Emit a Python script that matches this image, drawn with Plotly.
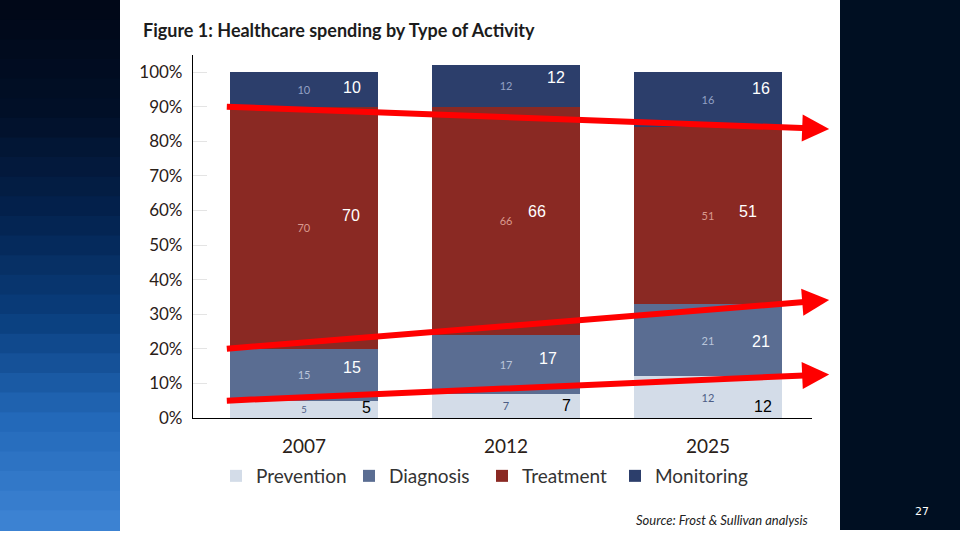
import plotly.graph_objects as go

# ---------------- data ----------------
years = ["2007", "2012", "2025"]
prevention = [5, 7, 12]
diagnosis = [15, 17, 21]
treatment = [70, 66, 51]
monitoring = [10, 12, 16]
series_names = ["Prevention", "Diagnosis", "Treatment", "Monitoring"]
y_tick_values = [0, 10, 20, 30, 40, 50, 60, 70, 80, 90, 100]
y_tick_labels = ["0%", "10%", "20%", "30%", "40%", "50%", "60%", "70%", "80%", "90%", "100%"]
major_tick_values = [20, 70, 90, 100]

# ---------------- styles ----------------
bar_colors = ["#d3dce8", "#5a6d92", "#8a2923", "#2c3e6b"]
inner_text_colors = ["#4d5d85", "#b9c5da", "#d99a8e", "#93a1c4"]
overlay_text_colors = ["#000000", "#ffffff", "#ffffff", "#ffffff"]
# pixel offsets (xshift, yshift) of the overlaid labels, per series then per year
overlay_offsets = [
    [(62, 2), (60, 0), (55, -9)],
    [(48, 7), (42, 6), (53, -1)],
    [(47, 12), (31, 9), (40, 4)],
    [(48, 2), (50, 8), (53, 11)],
]
FONT = "Lato"
W, H = 960, 540
H_EFF = 530          # height the page is actually drawn at in the viewer
PX_PER_UNIT = 3.46
Y_BASE_PX = 418
Y_TOP_PX = 55
X_LEFT_PX, X_RIGHT_PX = 193, 812
x_range = [-0.55, 2.515]
y_range = [0, (Y_BASE_PX - Y_TOP_PX) / PX_PER_UNIT]


def py(px):
    return 1 - px / H_EFF


series = [prevention, diagnosis, treatment, monitoring]

fig = go.Figure()
for name, vals, col, tcol in zip(series_names, series, bar_colors, inner_text_colors):
    fig.add_trace(go.Bar(
        x=years, y=vals, name=name,
        marker=dict(color=col, line=dict(width=0)),
        text=[str(v) for v in vals],
        textposition="inside", insidetextanchor="middle", textangle=0,
        textfont=dict(family=FONT, size=11, color=tcol),
        width=0.735,
    ))

annotations = []
# overlaid labels (added on the slide) from the data
for si, vals in enumerate(series):
    for yi, v in enumerate(vals):
        base = sum(series[k][yi] for k in range(si))
        dx, dy = overlay_offsets[si][yi]
        annotations.append(dict(
            x=yi, y=base + v / 2, xref="x", yref="y", text=str(v), showarrow=False,
            xshift=dx, yshift=dy,
            font=dict(family="Liberation Sans", size=16, color=overlay_text_colors[si]),
        ))

# red trend arrows across the boundaries between the stacks
arrow_x0, arrow_x1 = -0.39, 2.6
bar_right = 2 + 0.367
for level in (3, 2, 1):
    a = sum(series[k][0] for k in range(level))
    b = sum(series[k][2] for k in range(level))
    slope = (b - a) / (bar_right - arrow_x0)
    y_end = a + slope * (arrow_x1 - arrow_x0)
    annotations.append(dict(
        x=arrow_x1, y=y_end, ax=arrow_x0, ay=a, xref="x", yref="y", axref="x", ayref="y",
        text="", showarrow=True, arrowhead=2, arrowsize=0.9, arrowwidth=6,
        arrowcolor="#ff0000", standoff=0,
    ))

annotations += [
    dict(x=141 / W, y=py(30), xref="paper", yref="paper", xanchor="left", yanchor="middle",
         text="<b>Figure 1: Healthcare spending by Type of Activity</b>", showarrow=False,
         font=dict(family=FONT, size=18, color="#1c1c1c")),
    dict(x=810 / W, y=py(520), xref="paper", yref="paper", xanchor="right", yanchor="middle",
         text="<i>Source: Frost &amp; Sullivan analysis</i>", showarrow=False,
         font=dict(family=FONT, size=13, color="#222222")),
    dict(x=922 / W, y=py(511), xref="paper", yref="paper", xanchor="center", yanchor="middle",
         text="27", showarrow=False, font=dict(family="DejaVu Sans", size=11, color="#ffffff")),
]

# slide side strips
shapes = []
grad = [(1, 8, 24), (2, 16, 40), (4, 34, 78), (10, 62, 125), (35, 105, 185), (60, 130, 210)]
n = 27
for i in range(n):
    t = i / (n - 1) * (len(grad) - 1)
    k = min(int(t), len(grad) - 2)
    f = t - k
    c = tuple(int(grad[k][j] + (grad[k + 1][j] - grad[k][j]) * f) for j in range(3))
    shapes.append(dict(type="rect", xref="paper", yref="paper", x0=0, x1=120 / W,
                       y1=1 - i / n, y0=1 - (i + 1) / n - 0.002,
                       fillcolor="rgb(%d,%d,%d)" % c, line=dict(width=0), layer="below"))
shapes.append(dict(type="rect", xref="paper", yref="paper", x0=840 / W, x1=1, y0=0, y1=1,
                   fillcolor="#000f22", line=dict(width=0), layer="below"))

fig.update_layout(
    width=W, height=H, autosize=False,
    margin=dict(l=0, r=0, t=0, b=0),
    paper_bgcolor="#ffffff", plot_bgcolor="rgba(0,0,0,0)",
    barmode="stack",
    showlegend=True,
    legend=dict(orientation="h", x=216 / W, y=py(476), xanchor="left", yanchor="middle",
                font=dict(family=FONT, size=19, color="#333333"), traceorder="normal",
                entrywidth=88, itemwidth=30, bgcolor="rgba(0,0,0,0)"),
    xaxis=dict(domain=[X_LEFT_PX / W, X_RIGHT_PX / W], range=x_range, type="category",
               showline=True, linecolor="#000000", linewidth=1.2, ticks="",
               tickfont=dict(family=FONT, size=19, color="#2a2018"), showgrid=False,
               zeroline=False, ticklabelstandoff=11),
    yaxis=dict(domain=[py(Y_BASE_PX), py(Y_TOP_PX)], range=y_range,
               tickvals=y_tick_values, ticktext=y_tick_labels,
               showline=True, linecolor="#000000", linewidth=1.2,
               ticks="inside", ticklen=14, tickcolor="#e4e4e4", tickwidth=1,
               tickfont=dict(family=FONT, size=17, color="#2a2018"), showgrid=False,
               zeroline=False, ticklabelstandoff=6),
    yaxis2=dict(overlaying="y", anchor="x", side="left", range=y_range,
                tickvals=major_tick_values, ticks="inside", ticklen=16, tickcolor="#000000",
                tickwidth=1, showticklabels=False, showgrid=False, showline=False, zeroline=False),
    annotations=annotations,
    shapes=shapes,
)

page_css = (
    "var s=document.createElement('style');"
    "s.innerHTML='html,body{margin:0;padding:0;width:960px;overflow:hidden;"
    "background:linear-gradient(to right,#3c82d2 0px,#3c82d2 120px,#ffffff 120px,"
    "#ffffff 840px,#000f22 840px,#000f22 960px);}"
    ".plotly-graph-div{display:block;}';"
    "document.head.appendChild(s);"
)
fig.write_html(
    "out.html",
    config={"responsive": False, "displayModeBar": False},
    post_script=page_css,
)
